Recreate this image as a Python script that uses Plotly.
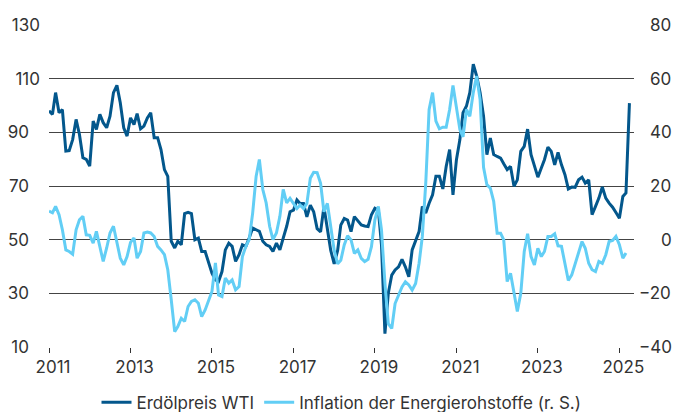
import pandas as pd
import plotly.graph_objects as go

# Monthly data, Jan 2011 onwards
wti = [
    98, 96.7, 104.8, 97.3, 98.5, 83, 83.2, 87.3, 94.8, 89.2, 80.5, 79.9,
    77.4, 94.2, 91.1, 96.7, 93.6, 91.7, 96, 104.8, 107.5, 101, 91.7, 88.6,
    95.4, 92.9, 97, 91.3, 92.3, 95.4, 97.3, 88, 88, 83.6, 76.1, 73.6,
    49.4, 46.9, 49.4, 48.1, 59.7, 60.2, 59.7, 50, 50.6, 45.6, 45.6, 41.9,
    37.5, 35, 34.4, 38.1, 46.2, 48.7, 47.5, 41.9, 44.4, 48.1, 47.5, 50.6,
    54.3, 53.7, 53.1, 49.4, 48.1, 47.5, 45.6, 48.7, 46.2, 50.6, 55, 60.4,
    61, 64.8, 63.5, 63.5, 58.5, 62.9, 60.4, 54.1, 52.9, 62.3, 53.5, 46,
    41, 46, 55.4, 57.9, 57.3, 53, 58.6, 57.1, 55.5, 55.1, 54.9, 59.3,
    61.7, 61.1, 48, 15, 30, 36.8, 38.7, 39.9, 42.7, 39.9, 36.2, 46.2,
    49.9, 53, 62.4, 59.9, 63.6, 66.7, 73.6, 73.6, 68.9, 77.3, 83.6, 66.7,
    79.8, 87.3, 97.3, 99.8, 104.8, 115.4, 111, 104.8, 96, 81.7, 87.9, 81.7,
    81, 80.4, 78.3, 76.1, 77.3, 69.9, 72.3, 82.9, 84.8, 91.2, 81.7, 77.3,
    73.3, 76.7, 79.8, 84.5, 82.9, 77.9, 82.5, 77.9, 74.2, 68.9, 69.6, 69.5,
    72.3, 73.3, 71.1, 72.3, 59.3, 62.4, 65.5, 69.6, 65.5, 63.6, 62.1, 60.1,
    58, 66.1, 67.4, 100.9,
]

energy_inflation = [
    10.6, 10, 12.4, 9.3, 3.7, -3.8, -4.4, -5.4, 3.7, 7.4, 8.7, 1.8,
    1.6, -1.3, 3.1, -2.5, -8.1, -3.1, 2.5, 5, -1.3, -6.9, -9.4, -6.3,
    -1, 0.6, -6.9, -4.4, 2.5, 2.8, 2.5, 1.2, -2.5, -3.8, -5.6, -11.2,
    -22.4, -34.3, -32.4, -29.3, -30.5, -24.9, -23, -22.4, -23.7, -28.7, -26.2, -23.1,
    -19.3, -8.7, -20.6, -21.2, -14.3, -16.2, -15, -18.7, -17.5, -6.3, -2.5, 0,
    9.9, 23.6, 29.9, 18.7, 13.7, 5, 0, 2.5, 8.7, 18.7, 13.7, 15.4,
    13.5, 11.6, 12.9, 11.6, 13.5, 22.9, 25.1, 25, 21, 10.4, 13.5, 5.4,
    -4, -9, -7.7, -2, 1.5, -0.1, -5.1, -3.8, -7, -8.2, -7.3, -2.6,
    7.4, 12.4, 3.6, -16.3, -31.3, -33.1, -23.8, -20.7, -17.6, -15.7, -16.9, -18.8,
    -16.3, -8.8, 1.1, 21.1, 48.5, 54.8, 44.2, 41.3, 41.9, 41.9, 48.5, 57.5,
    48.5, 41, 38.3, 48.5, 46, 54.8, 61, 52.3, 27, 20.5, 19.2, 14.3,
    2.4, 2.4, -0.1, -15.6, -12.5, -20, -26.8, -20, -4.4, 2.2, -6.3, -9.4,
    -3.2, -6.3, -4.4, 1.2, 1.2, 2.2, -2.3, -2.5, -8.8, -15.2, -13.1, -8.8,
    -5, -0.7, -3.2, -8.8, -11.2, -11.9, -8.1, -8.8, -5.6, -0.7, -0.3, 1.2,
    -1.9, -6.9, -5,
]

left_ticks = [10, 30, 50, 70, 90, 110, 130]
right_ticks = [-40, -20, 0, 20, 40, 60, 80]
year_ticks = ["2011", "2013", "2015", "2017", "2019", "2021", "2023", "2025"]

FS = "\u2007"  # figure space, digit-wide padding for label alignment


def left_label(v):
    s = str(v)
    return s + FS * (3 - len(s))


def right_label(v):
    s = str(abs(v))
    s = ("\u2212" + s) if v < 0 else s
    return FS * (3 - len(s)) + s


dates_wti = pd.date_range("2011-01-01", periods=len(wti), freq="MS")
dates_inf = pd.date_range("2011-01-01", periods=len(energy_inflation), freq="MS")

DARK = "#03578C"
LIGHT = "#62CEF5"
TXT = "#333333"
FONT = "Inter, Roboto, sans-serif"

fig = go.Figure()
fig.add_trace(go.Scatter(
    x=dates_inf, y=energy_inflation, mode="lines",
    name="Inflation der Energierohstoffe (r. S.)",
    line=dict(color=LIGHT, width=3), yaxis="y2",
))
fig.add_trace(go.Scatter(
    x=dates_wti, y=wti, mode="lines", name="Erdölpreis WTI",
    line=dict(color=DARK, width=3), yaxis="y",
))

fig.update_layout(
    width=676, height=412,
    margin=dict(l=49, r=42, t=25, b=65, autoexpand=False),
    paper_bgcolor="white", plot_bgcolor="white",
    font=dict(family=FONT, size=17, color=TXT),
    showlegend=True,
    legend=dict(
        orientation="h", x=0.5, xanchor="center", y=-0.117, yanchor="top",
        font=dict(family=FONT, size=17, color=TXT),
        traceorder="reversed",
    ),
    xaxis=dict(
        type="date",
        range=["2011-01-01", "2025-05-12"],
        tickvals=[f"{y}-01-01" for y in year_ticks],
        ticktext=year_ticks,
        showgrid=False, zeroline=False,
        ticks="outside", ticklen=5, tickcolor=TXT,
        showline=False, automargin=False,
        ticklabelshift=4,
        tickfont=dict(size=17, color=TXT),
    ),
    yaxis=dict(
        range=[10, 130], tickvals=left_ticks,
        ticktext=[left_label(v) for v in left_ticks],
        showgrid=True, gridcolor="#444444", gridwidth=1,
        zeroline=False, showline=False, ticks="", automargin=False,
        ticklabelstandoff=8,
        tickfont=dict(size=17, color=TXT),
    ),
    yaxis2=dict(
        range=[-40, 80], tickvals=right_ticks,
        ticktext=[right_label(v) for v in right_ticks],
        overlaying="y", side="right",
        showgrid=False, zeroline=False, showline=False, ticks="",
        automargin=False, ticklabelstandoff=4,
        tickfont=dict(size=17, color=TXT),
    ),
)

fig.write_html(
    "out.html",
    config={"displayModeBar": False},
    post_script="document.body.style.margin='0';",
)
